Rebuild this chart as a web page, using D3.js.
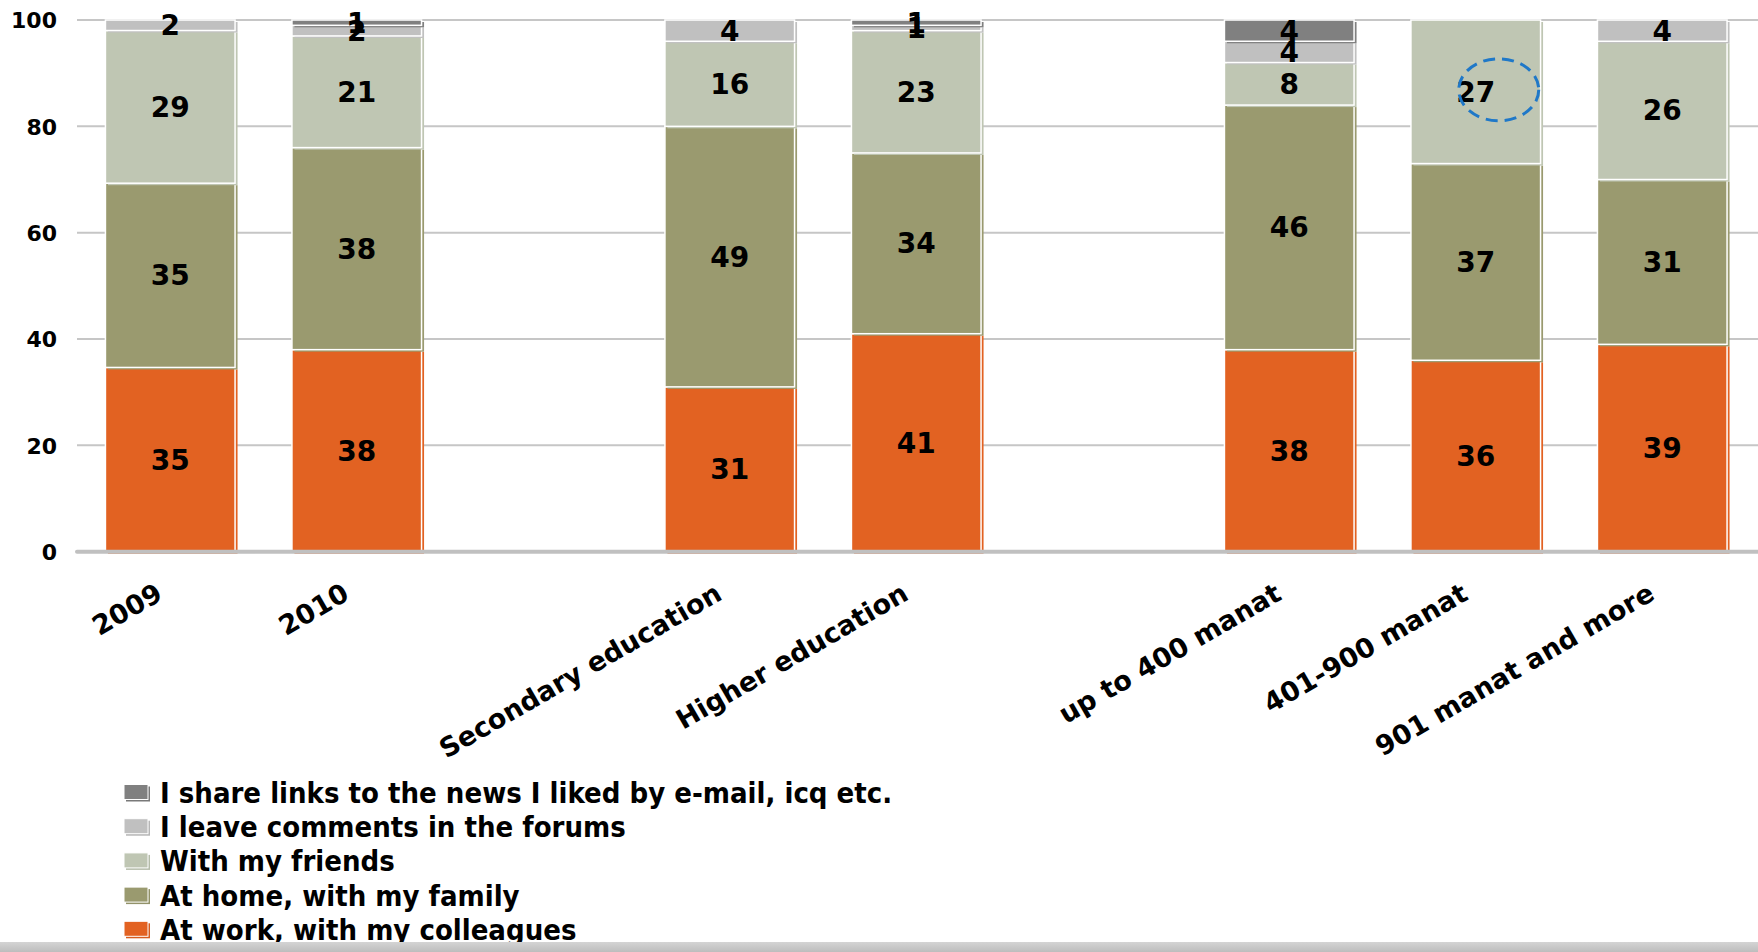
<!DOCTYPE html>
<html>
<head>
<meta charset="utf-8">
<script src="https://cdn.jsdelivr.net/npm/d3@7"></script>
<style>
  html, body { margin: 0; padding: 0; background: #fff; }
  svg { display: block; }
</style>
</head>
<body>
<svg id="chart" width="1758" height="952"></svg>
<script>
// ---- data ----
const categories = ["2009", "2010", "Secondary education", "Higher education", "up to 400 manat", "401-900 manat", "901 manat and more"];
// category slots, with empty slots separating the groups
const slots = ["2009", "2010", "gap-1", "Secondary education", "Higher education", "gap-2", "up to 400 manat", "401-900 manat", "901 manat and more"];
const seriesNames = [
  "At work, with my colleagues",
  "At home, with my family",
  "With my friends",
  "I leave comments in the forums",
  "I share links to the news I liked by e-mail, icq etc."
];
const work     = [35, 38, 31, 41, 38, 36, 39];
const family   = [35, 38, 49, 34, 46, 37, 31];
const friends  = [29, 21, 16, 23,  8, 27, 26];
const comments = [ 2,  2,  4,  1,  4,  0,  4];
const links    = [ 0,  1,  0,  1,  4,  0,  0];
const yTicks = [0, 20, 40, 60, 80, 100];
const colors = ["#E26222", "#9A9A6F", "#BFC6B3", "#C0C0C0", "#808080"];
const highlighted = { category: "401-900 manat", series: 2 };

// ---- build table ----
const seriesValues = [work, family, friends, comments, links];
const keys = seriesNames;
const table = categories.map((c, i) => {
  const row = { category: c };
  keys.forEach((k, s) => row[k] = seriesValues[s][i]);
  return row;
});
const stacked = d3.stack().keys(keys).offset(d3.stackOffsetExpand)(table);

// ---- layout ----
const svg = d3.select("#chart");
const plot = { left: 77, right: 1755.5, top: 20, bottom: 551.7 };

const x = d3.scaleBand().domain(slots).range([plot.left, plot.right])
  .paddingInner(0.305).paddingOuter(0.1525);
const y = d3.scaleLinear().domain([0, 100]).range([plot.bottom, plot.top]);

const fontMain = "'DejaVu Sans', Verdana, sans-serif";

// gridlines
svg.append("g").selectAll("line").data(yTicks.filter(t => t !== 0)).join("line")
  .attr("x1", plot.left).attr("x2", 1758)
  .attr("y1", d => y(d)).attr("y2", d => y(d))
  .attr("stroke", "#C6C6C6").attr("stroke-width", 2);

// y axis labels
const yAxis = d3.axisLeft(y).tickValues(yTicks).tickSize(0).tickPadding(0);
const yg = svg.append("g").attr("transform", `translate(57,0)`).call(yAxis);
yg.select(".domain").remove();
yg.selectAll("text")
  .attr("font-family", fontMain).attr("font-weight", "bold")
  .attr("font-size", 22).attr("fill", "#000").attr("dy", "0.36em");

// bars
const barsG = svg.append("g");
stacked.forEach((layer, s) => {
  const g = barsG.append("g");
  layer.forEach((d, i) => {
    const v = seriesValues[s][i];
    if (v <= 0) return;
    const cx = x(categories[i]);
    const y0 = y(d[0] * 100), y1 = y(d[1] * 100);
    const h = Math.max(0, y0 - y1);
    // shadow
    g.append("rect").attr("x", cx + 2.5).attr("y", y1 + 2)
      .attr("width", x.bandwidth()).attr("height", h)
      .attr("fill", colors[s]);
    g.append("rect").attr("x", cx).attr("y", y1)
      .attr("width", x.bandwidth()).attr("height", h)
      .attr("fill", colors[s]).attr("stroke", "#fff").attr("stroke-width", 1.5);
  });
});

// zero axis line
svg.append("line").attr("x1", plot.left).attr("x2", 1758)
  .attr("y1", y(0)).attr("y2", y(0))
  .attr("stroke", "#C0C0C0").attr("stroke-width", 4).attr("stroke-linecap", "round");

// value labels
const labG = svg.append("g");
stacked.forEach((layer, s) => {
  layer.forEach((d, i) => {
    const v = seriesValues[s][i];
    if (v <= 0) return;
    labG.append("text")
      .attr("x", x(categories[i]) + x.bandwidth() / 2)
      .attr("y", y((d[0] + d[1]) / 2 * 100))
      .attr("dy", "0.36em")
      .attr("text-anchor", "middle")
      .attr("font-family", fontMain).attr("font-weight", "bold")
      .attr("font-size", 28).attr("fill", "#000")
      .text(v);
  });
});

// highlight ellipse
{
  const i = categories.indexOf(highlighted.category);
  const d = stacked[highlighted.series][i];
  svg.append("ellipse")
    .attr("cx", x(highlighted.category) + x.bandwidth() / 2 + 23)
    .attr("cy", y((d[0] + d[1]) / 2 * 100) - 2)
    .attr("rx", 40).attr("ry", 31)
    .attr("fill", "none").attr("stroke", "#1F78C8")
    .attr("stroke-width", 3).attr("stroke-dasharray", "12 7");
}

// x labels
svg.append("g").selectAll("text").data(categories).join("text")
  .attr("transform", d => `translate(${x(d) + x.bandwidth() / 2 - 6},${plot.bottom + 47}) rotate(-30)`)
  .attr("text-anchor", "end")
  .attr("font-family", fontMain).attr("font-weight", "bold")
  .attr("font-size", 27).attr("fill", "#000")
  .text(d => d);

// legend
const legendOrder = [4, 3, 2, 1, 0];
const lg = svg.append("g");
legendOrder.forEach((s, r) => {
  const cy = 792.5 + r * 34.2;
  lg.append("rect").attr("x", 126).attr("y", cy - 6).attr("width", 24).attr("height", 15)
    .attr("fill", d3.color(colors[s]).darker(0.15));
  lg.append("rect").attr("x", 124).attr("y", cy - 8).attr("width", 24).attr("height", 15)
    .attr("fill", colors[s]).attr("stroke", "#fff").attr("stroke-width", 1);
  lg.append("text").attr("x", 160).attr("y", cy).attr("dy", "0.36em")
    .attr("font-family", "'DejaVu Sans Condensed', 'DejaVu Sans', sans-serif")
    .attr("font-stretch", "condensed")
    .attr("font-weight", "bold").attr("font-size", 29).attr("fill", "#000")
    .text(seriesNames[s]);
});

// bottom strip
const defs = svg.append("defs");
const grad = defs.append("linearGradient").attr("id", "strip").attr("x1", 0).attr("x2", 0).attr("y1", 0).attr("y2", 1);
grad.append("stop").attr("offset", "0%").attr("stop-color", "#D4D4D4");
grad.append("stop").attr("offset", "100%").attr("stop-color", "#BDBDBD");
svg.append("rect").attr("x", 0).attr("y", 942).attr("width", 1758).attr("height", 10).attr("fill", "url(#strip)");
</script>
</body>
</html>
